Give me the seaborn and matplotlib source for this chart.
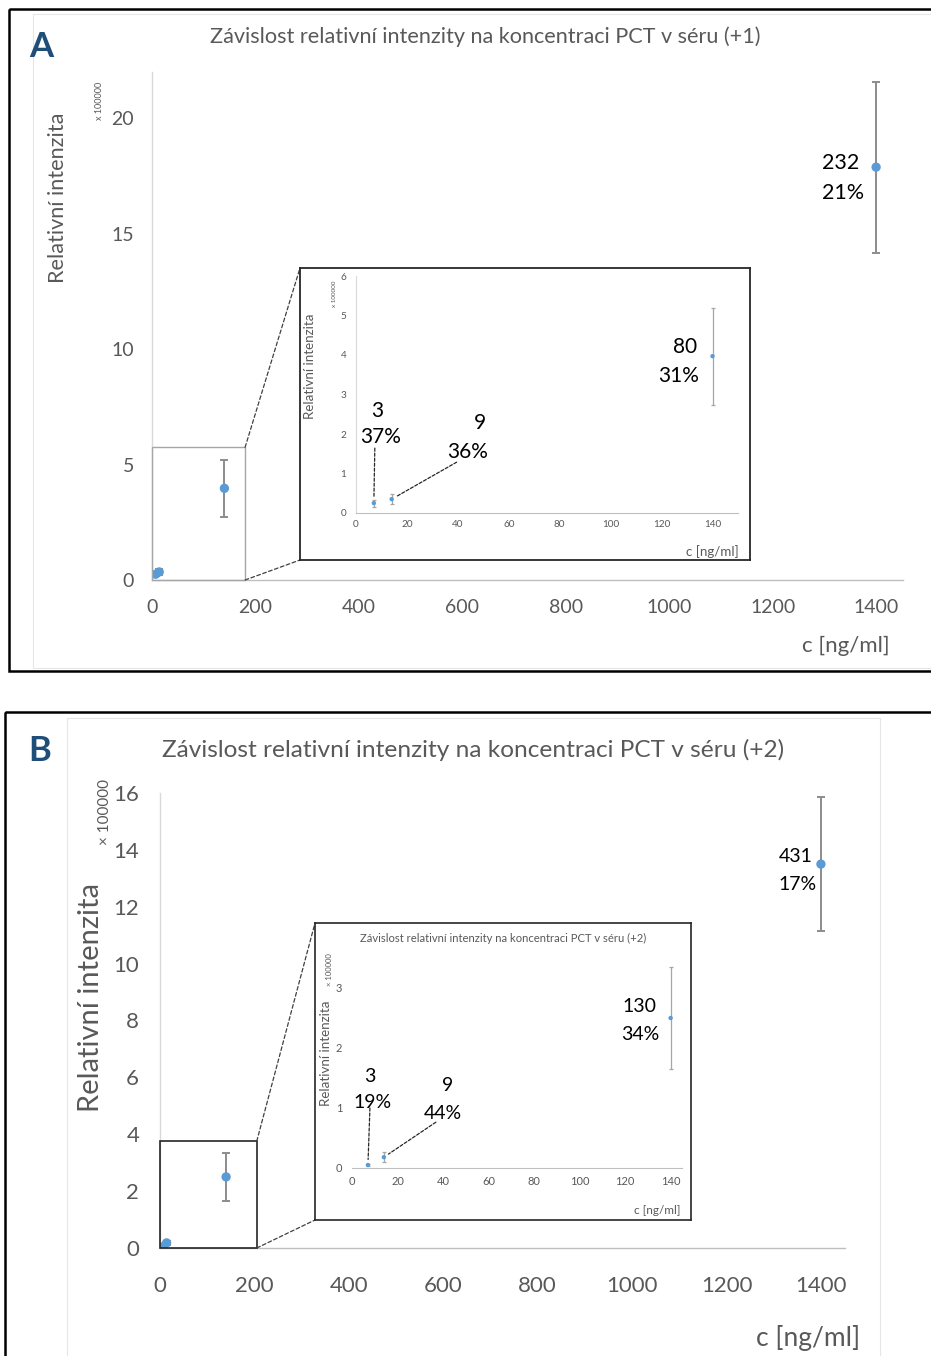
import matplotlib
matplotlib.use("Agg")
import matplotlib.pyplot as plt
import seaborn as sns
import pandas as pd
from matplotlib.patches import Rectangle, ConnectionPatch

# ---------------- data ----------------
conc = [7, 14, 140, 1400]
int_A = [0.25, 0.35, 3.97, 17.88]
err_A = [0.09, 0.12, 1.23, 3.70]
n_A = ["3", "9", "80", "232"]
cv_A = ["37%", "36%", "31%", "21%"]

int_B = [0.05, 0.18, 2.50, 13.50]
err_B = [0.01, 0.08, 0.85, 2.35]
n_B = ["3", "9", "130", "431"]
cv_B = ["19%", "44%", "34%", "17%"]

title_A = "Závislost relativní intenzity na koncentraci PCT v séru (+1)"
title_B = "Závislost relativní intenzity na koncentraci PCT v séru (+2)"
ylab = "Relativní intenzita"
xlab = "c [ng/ml]"
scale_A = "x 100000"
scale_B = "× 100000"
main_xticks = [0, 200, 400, 600, 800, 1000, 1200, 1400]
yticks_A = [0, 5, 10, 15, 20]
yticks_B = [0, 2, 4, 6, 8, 10, 12, 14, 16]
inset_xticks = [0, 20, 40, 60, 80, 100, 120, 140]
inset_yticks_A = [0, 1, 2, 3, 4, 5, 6]
inset_yticks_B = [0, 1, 2, 3]

dfA = pd.DataFrame({"c": conc, "I": int_A, "e": err_A})
dfB = pd.DataFrame({"c": conc, "I": int_B, "e": err_B})

# ---------------- style ----------------
sns.set_theme(style="white")
FA = ["Lato", "DejaVu Sans"]
FB = ["Lato", "DejaVu Sans"]
plt.rcParams["font.family"] = FA

W, H = 931, 1356
GREY = "#595959"
BLUE = "#5B9BD5"
DARKBLUE = "#1F4E79"


def rect(x0, y0, x1, y1):
    return [x0 / W, 1 - y1 / H, (x1 - x0) / W, (y1 - y0) / H]


fig = plt.figure(figsize=(W / 100, H / 100), dpi=100)

bg = fig.add_axes([0, 0, 1, 1], zorder=0)
bg.set_xlim(0, W)
bg.set_ylim(H, 0)
bg.axis("off")

fg = fig.add_axes([0, 0, 1, 1], zorder=10)
fg.set_xlim(0, W)
fg.set_ylim(H, 0)
fg.axis("off")
fg.patch.set_alpha(0)

# panel frames
bg.add_patch(Rectangle((33, 14), 920, 654, fill=False, ec="#E6E6E6", lw=0.8))
bg.add_patch(Rectangle((67, 718), 813, 660, fill=False, ec="#E6E6E6", lw=0.8))
bg.add_patch(Rectangle((9, 9), 940, 662, fill=False, ec="black", lw=1.8))
bg.add_patch(Rectangle((5, 712), 944, 660, fill=False, ec="black", lw=1.8))

bg.text(41, 47, "A", ha="center", va="center", fontsize=25, fontweight="bold",
        color=DARKBLUE, family=FB)
bg.text(40, 751, "B", ha="center", va="center", fontsize=25, fontweight="bold",
        color=DARKBLUE, family=FB)

# titles & axis labels (panel A)
bg.text(485, 37, title_A, ha="center", va="center", fontsize=15.6, color=GREY)
bg.text(58, 198, ylab, ha="center", va="center", rotation=90, fontsize=15.6, color=GREY)
bg.text(100, 101, scale_A, ha="center", va="center", rotation=90, fontsize=6.5, color=GREY)
bg.text(846, 646, xlab, ha="center", va="center", fontsize=16, color=GREY)

# panel B
bg.text(473, 750, title_B, ha="center", va="center", fontsize=17.6, color=GREY, family=FB)
bg.text(91, 997, ylab, ha="center", va="center", rotation=90, fontsize=21, color=GREY, family=FB)
bg.text(105, 812, scale_B, ha="center", va="center", rotation=90, fontsize=11, color=GREY, family=FB)
bg.text(808, 1338, xlab, ha="center", va="center", fontsize=19, color=GREY, family=FB)


def style_main(ax, fam, fs, xpad, ypad):
    for s in ["top", "right"]:
        ax.spines[s].set_visible(False)
    ax.spines["left"].set_color("#D9D9D9")
    ax.spines["bottom"].set_color("#BFBFBF")
    ax.spines["left"].set_linewidth(1)
    ax.spines["bottom"].set_linewidth(1)
    ax.tick_params(length=0, colors=GREY, labelsize=fs)
    ax.tick_params(axis="x", pad=xpad)
    ax.tick_params(axis="y", pad=ypad)
    for lb in ax.get_xticklabels() + ax.get_yticklabels():
        lb.set_family(fam)
    ax.set_xlabel("")
    ax.set_ylabel("")
    ax.patch.set_alpha(0)
    ax.grid(False)


def plot_points(ax, df, ms, elw, cap, ecol):
    ax.errorbar(df["c"], df["I"], yerr=df["e"], fmt="none", ecolor=ecol,
                elinewidth=elw, capsize=cap, capthick=elw, zorder=2)
    sns.scatterplot(data=df, x="c", y="I", ax=ax, color=BLUE, s=ms,
                    edgecolor="none", zorder=3, legend=False)


# ================= Panel A main =================
axA = fig.add_axes(rect(152, 72, 903, 580), zorder=1)
plot_points(axA, dfA, 45, 1.4, 3, "#8C8C8C")
axA.set_xlim(0, 1452)
axA.set_ylim(0, 22)
axA.set_xticks(main_xticks)
axA.set_yticks(yticks_A)
style_main(axA, FA, 14, 14, 13)
axA.annotate(n_A[3], (conc[3], int_A[3]), xytext=(-54, 4), textcoords="offset pixels",
             ha="left", va="center", fontsize=15.5, color="black")
axA.annotate(cv_A[3], (conc[3], int_A[3]), xytext=(-54, -26), textcoords="offset pixels",
             ha="left", va="center", fontsize=15.5, color="black")
zA = (180, 5.75)
axA.add_patch(Rectangle((0, 0), zA[0], zA[1], fill=False, ec="#A6A6A6", lw=1.0,
                        clip_on=False, zorder=4))

# inset A box
boxA = fig.add_axes(rect(300, 268, 750, 560), zorder=3)
boxA.set_xticks([]); boxA.set_yticks([])
boxA.set_facecolor("white")
for s in boxA.spines.values():
    s.set_color("#262626"); s.set_linewidth(1.3)

for (xa, ya), (xb, yb) in [((zA[0], zA[1]), (0, 1)), ((zA[0], 0), (0, 0))]:
    cp = ConnectionPatch(xyA=(xa, ya), coordsA=axA.transData, xyB=(xb, yb),
                         coordsB=boxA.transAxes, ls=(0, (3, 2)), color="#404040", lw=0.9,
                         zorder=2)
    fig.add_artist(cp)

inA = fig.add_axes(rect(356, 276, 738, 513), zorder=4)
plot_points(inA, dfA, 10, 0.9, 1.5, "#A6A6A6")
inA.set_xlim(0, 150)
inA.set_ylim(0, 6)
inA.set_xticks(inset_xticks)
inA.set_yticks(inset_yticks_A)
style_main(inA, FA, 7.2, 5, 7)
inA.spines["left"].set_linewidth(0.8)
inA.spines["bottom"].set_linewidth(0.8)
fg.text(310, 366, ylab, ha="center", va="center", rotation=90, fontsize=9.6, color=GREY)
fg.text(334, 294, scale_A, ha="center", va="center", rotation=90, fontsize=4.5, color=GREY)
fg.text(712, 552, xlab, ha="center", va="center", fontsize=9.6, color=GREY)

lab_kw = dict(textcoords="offset pixels", va="center", fontsize=15, color="black")
inA.annotate(n_A[2], (conc[2], int_A[2]), xytext=(-15, 9), ha="right", **lab_kw)
inA.annotate(cv_A[2], (conc[2], int_A[2]), xytext=(-14, -20), ha="right", **lab_kw)
inA.annotate(n_A[0], (conc[0], int_A[0]), xytext=(3, 92), ha="center", **lab_kw)
inA.annotate(cv_A[0], (conc[0], int_A[0]), xytext=(7, 66), ha="center", **lab_kw)
inA.annotate(n_A[1], (conc[1], int_A[1]), xytext=(88, 76), ha="center", **lab_kw)
inA.annotate(cv_A[1], (conc[1], int_A[1]), xytext=(76, 47), ha="center", **lab_kw)
ldr = dict(arrowstyle="-", linestyle=(0, (2.5, 1.5)), color="#262626", lw=0.9,
           shrinkA=0, shrinkB=4)
inA.annotate("", (conc[0], int_A[0]), xytext=(1, 55), textcoords="offset pixels",
             arrowprops=ldr)
inA.annotate("", (conc[1], int_A[1]), xytext=(65, 37), textcoords="offset pixels",
             arrowprops=ldr)

# ================= Panel B main =================
axB = fig.add_axes(rect(160, 793, 845, 1248), zorder=1)
plot_points(axB, dfB, 45, 1.4, 3, "#8C8C8C")
axB.set_xlim(0, 1451)
axB.set_ylim(0, 16)
axB.set_xticks(main_xticks)
axB.set_yticks(yticks_B)
style_main(axB, FB, 16, 20, 15)
axB.annotate(n_B[3], (conc[3], int_B[3]), xytext=(-42, 8), textcoords="offset pixels",
             ha="left", va="center", fontsize=14, color="black", family=FB)
axB.annotate(cv_B[3], (conc[3], int_B[3]), xytext=(-42, -20), textcoords="offset pixels",
             ha="left", va="center", fontsize=14, color="black", family=FB)
zB = (205, 3.76)
axB.add_patch(Rectangle((0, 0), zB[0], zB[1], fill=False, ec="#262626", lw=1.2,
                        clip_on=False, zorder=4))

boxB = fig.add_axes(rect(315, 923, 691, 1220), zorder=3)
boxB.set_xticks([]); boxB.set_yticks([])
boxB.set_facecolor("white")
for s in boxB.spines.values():
    s.set_color("#262626"); s.set_linewidth(1.2)

for (xa, ya), (xb, yb) in [((zB[0], zB[1]), (0, 1)), ((zB[0], 0), (0, 0))]:
    cp = ConnectionPatch(xyA=(xa, ya), coordsA=axB.transData, xyB=(xb, yb),
                         coordsB=boxB.transAxes, ls=(0, (3, 2)), color="#404040", lw=0.9,
                         zorder=2)
    fig.add_artist(cp)

inB = fig.add_axes(rect(352, 958, 682, 1168), zorder=4)
plot_points(inB, dfB, 10, 0.9, 1.5, "#A6A6A6")
inB.set_xlim(0, 145)
inB.set_ylim(0, 3.5)
inB.set_xticks(inset_xticks)
inB.set_yticks(inset_yticks_B)
style_main(inB, FB, 8, 6, 7)
inB.spines["left"].set_visible(False)
inB.spines["bottom"].set_linewidth(0.8)
fg.text(503, 938, title_B, ha="center", va="center", fontsize=8.1, color=GREY, family=FB)
fg.text(326, 1053, ylab, ha="center", va="center", rotation=90, fontsize=9.6, color=GREY, family=FB)
fg.text(330, 970, scale_B, ha="center", va="center", rotation=90, fontsize=5.5, color=GREY, family=FB)
fg.text(657, 1210, xlab, ha="center", va="center", fontsize=8.5, color=GREY, family=FB)

labB = dict(textcoords="offset pixels", va="center", fontsize=14, color="black", family=FB)
inB.annotate(n_B[2], (conc[2], int_B[2]), xytext=(-14, 12), ha="right", **labB)
inB.annotate(cv_B[2], (conc[2], int_B[2]), xytext=(-11, -17), ha="right", **labB)
inB.annotate(n_B[0], (conc[0], int_B[0]), xytext=(2, 88), ha="center", **labB)
inB.annotate(cv_B[0], (conc[0], int_B[0]), xytext=(5, 62), ha="center", **labB)
inB.annotate(n_B[1], (conc[1], int_B[1]), xytext=(64, 72), ha="center", **labB)
inB.annotate(cv_B[1], (conc[1], int_B[1]), xytext=(59, 44), ha="center", **labB)
inB.annotate("", (conc[0], int_B[0]), xytext=(2, 57), textcoords="offset pixels",
             arrowprops=ldr)
inB.annotate("", (conc[1], int_B[1]), xytext=(52, 35), textcoords="offset pixels",
             arrowprops=ldr)

fig.savefig("out.png", dpi=100)
